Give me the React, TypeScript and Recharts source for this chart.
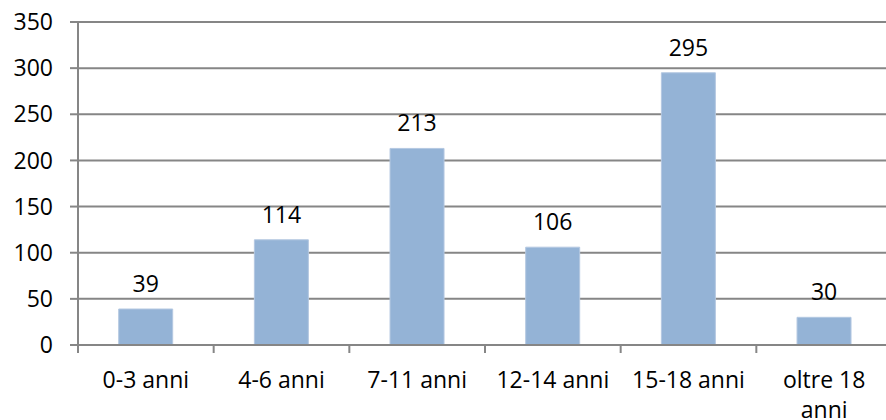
import { BarChart, Bar, XAxis, YAxis, CartesianGrid, LabelList } from "recharts";

// fasce d'età e numero di casi
const AGE_GROUPS = ["0-3 anni", "4-6 anni", "7-11 anni", "12-14 anni", "15-18 anni", "oltre 18 anni"];
const COUNTS = [39, 114, 213, 106, 295, 30];
const Y_TICKS = [0, 50, 100, 150, 200, 250, 300, 350];

const data = AGE_GROUPS.map((name, i) => ({ name, value: COUNTS[i] }));

const FONT = "'Open Sans', 'Liberation Sans', sans-serif";
const FONT_SIZE = 23;
const AXIS_COLOR = "#868686";
const BAR_COLOR = "#94B3D6";

const CHART_W = 900;
const CHART_H = 420;
const MARGIN = { top: 22, right: 8, bottom: 0, left: 0 };
const Y_AXIS_W = 78;
const PLOT_W = CHART_W - MARGIN.left - MARGIN.right - Y_AXIS_W;
const MAX_CHARS = 10;

// greedy word wrap, labels longer than MAX_CHARS go on two lines
function wrapLabel(label: string): string[] {
  const lines: string[] = [];
  let cur = "";
  for (const word of label.split(" ")) {
    const next = cur ? cur + " " + word : word;
    if (next.length > MAX_CHARS && cur) {
      lines.push(cur);
      cur = word;
    } else {
      cur = next;
    }
  }
  if (cur) lines.push(cur);
  return lines;
}

// tick labels under the categories, with the small tick marks between bands
function AgeTick(props: any) {
  const { x, y, payload } = props;
  const half = PLOT_W / AGE_GROUPS.length / 2;
  const lines = wrapLabel(String(payload.value));
  return (
    <g>
      <line x1={x - half} x2={x - half} y1={y} y2={y + 8} stroke={AXIS_COLOR} strokeWidth={2} />
      <text x={x} y={y + 43} textAnchor="middle" fill="#000" style={{ fontFamily: FONT, fontSize: FONT_SIZE }}>
        {lines.map((line, i) => (
          <tspan key={i} x={x} dy={i === 0 ? 0 : 30}>
            {line}
          </tspan>
        ))}
      </text>
    </g>
  );
}

export default function App() {
  return (
    <div style={{ position: "absolute", left: 0, top: 0, width: 886, height: 420, overflow: "hidden", background: "#fff" }}>
      <BarChart width={CHART_W} height={CHART_H} data={data} margin={MARGIN} barCategoryGap="30%">
        <CartesianGrid vertical={false} stroke={AXIS_COLOR} strokeWidth={2} />
        <XAxis
          dataKey="name"
          height={75}
          interval={0}
          axisLine={{ stroke: AXIS_COLOR, strokeWidth: 2 }}
          tickLine={false}
          tickSize={0}
          tickMargin={0}
          tick={<AgeTick />}
        />
        <YAxis
          width={Y_AXIS_W}
          domain={[0, 350]}
          ticks={Y_TICKS}
          interval={0}
          axisLine={{ stroke: AXIS_COLOR, strokeWidth: 2 }}
          tickLine={{ stroke: AXIS_COLOR, strokeWidth: 2 }}
          tickSize={8}
          tickMargin={17}
          tick={{ fill: "#000", fontFamily: FONT, fontSize: FONT_SIZE }}
        />
        <Bar dataKey="value" fill={BAR_COLOR} stroke="#B4C8E1" strokeWidth={1} isAnimationActive={false}>
          <LabelList
            dataKey="value"
            position="top"
            offset={17}
            fill="#000"
            style={{ fontFamily: FONT, fontSize: FONT_SIZE }}
          />
        </Bar>
      </BarChart>
    </div>
  );
}
